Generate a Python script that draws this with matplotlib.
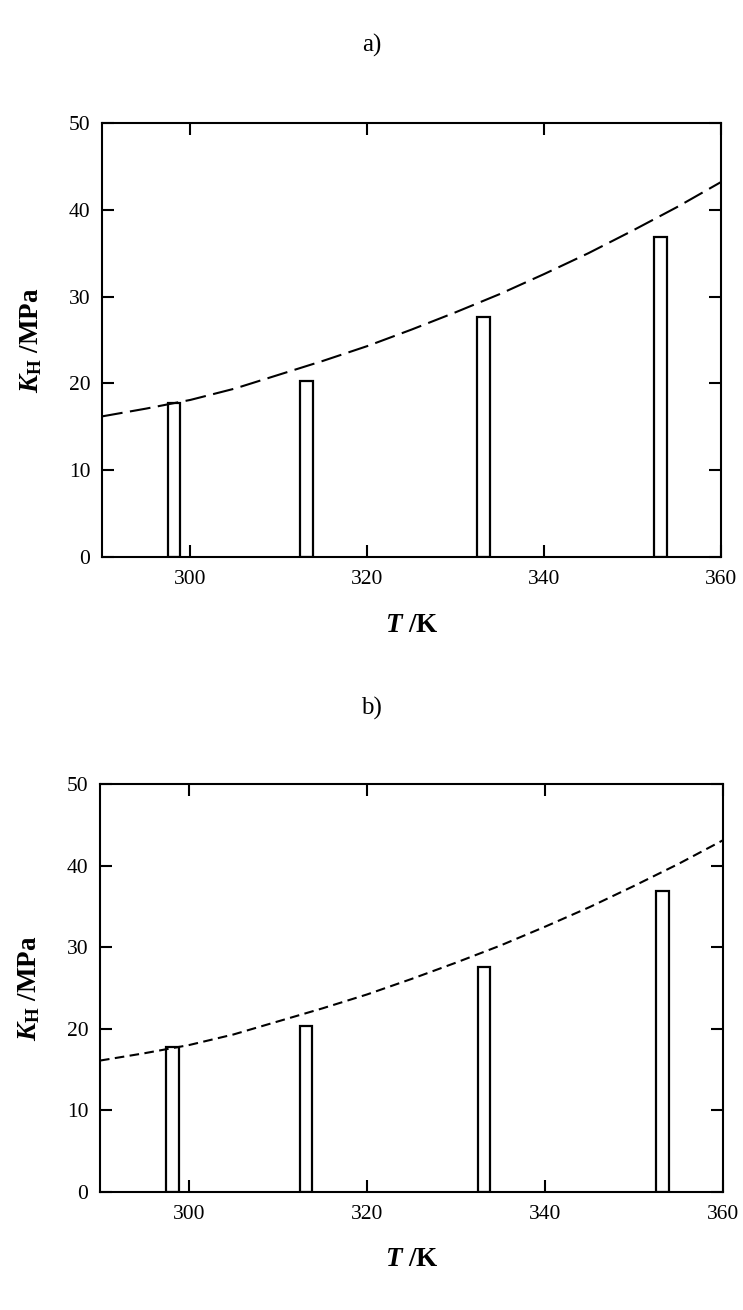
import matplotlib
matplotlib.use("Agg")
import matplotlib.pyplot as plt
import numpy as np

plt.rcParams['font.family'] = 'Liberation Serif'
plt.rcParams['mathtext.fontset'] = 'custom'
plt.rcParams['mathtext.it'] = 'Liberation Serif:italic:bold'
plt.rcParams['mathtext.rm'] = 'Liberation Serif:bold'
plt.rcParams['mathtext.bf'] = 'Liberation Serif:bold'

# measured Henry constants (bars)
T_exp = [298.15, 313.15, 333.15, 353.15]
KH_exp = [17.8, 20.3, 27.6, 36.9]

# model curves
T_fit = [290, 295, 300, 305, 310, 315, 320, 325, 330, 335, 340, 345, 350, 355, 360]
KH_fit_a = [16.2, 17.1, 18.1, 19.4, 21.0, 22.6, 24.3, 26.2, 28.2, 30.3, 32.6, 35.0, 37.6, 40.3, 43.2]
KH_fit_b = [16.1, 17.0, 18.0, 19.3, 20.9, 22.5, 24.2, 26.1, 28.1, 30.2, 32.5, 34.9, 37.5, 40.2, 43.1]

xticks = [300, 320, 340, 360]
yticks = [0, 10, 20, 30, 40, 50]

fig = plt.figure(figsize=(7.43, 13.1), dpi=100)
ax1 = fig.add_axes([0.1373, 0.5748, 0.8331, 0.3313])
ax2 = fig.add_axes([0.1346, 0.0901, 0.8385, 0.3115])

panels = [(ax1, KH_fit_a, (0, (10, 3.6)), -0.128), (ax2, KH_fit_b, (0, (4.6, 2.6)), -0.135)]
for ax, fit, ls, xl in panels:
    ax.bar(T_exp, KH_exp, width=1.45, color='white', edgecolor='black',
           linewidth=1.6, zorder=2)
    ax.plot(T_fit, fit, color='black', linewidth=1.5, linestyle=ls, zorder=3)
    ax.set_xlim(290, 360)
    ax.set_ylim(0, 50)
    ax.set_xticks(xticks)
    ax.set_yticks(yticks)
    ax.tick_params(direction='in', length=8.5, width=1.5, labelsize=15.5,
                   top=True, right=True)
    ax.tick_params(axis='x', pad=9.5)
    ax.tick_params(axis='y', pad=8.5)
    for s in ax.spines.values():
        s.set_linewidth(1.5)
    ax.set_xlabel('$T$ /K', fontsize=19.5, fontweight='bold')
    ax.set_ylabel('$K_\\mathrm{H}$ /MPa', fontsize=19.5, fontweight='bold')
    ax.xaxis.set_label_coords(0.5, xl)
    ax.yaxis.set_label_coords(-0.093, 0.5)

fig.text(0.5, 1 - 45 / 1310, 'a)', fontsize=18, ha='center', va='center')
fig.text(0.5, 1 - 708 / 1310, 'b)', fontsize=18, ha='center', va='center')

fig.savefig('out.png', dpi=100)
